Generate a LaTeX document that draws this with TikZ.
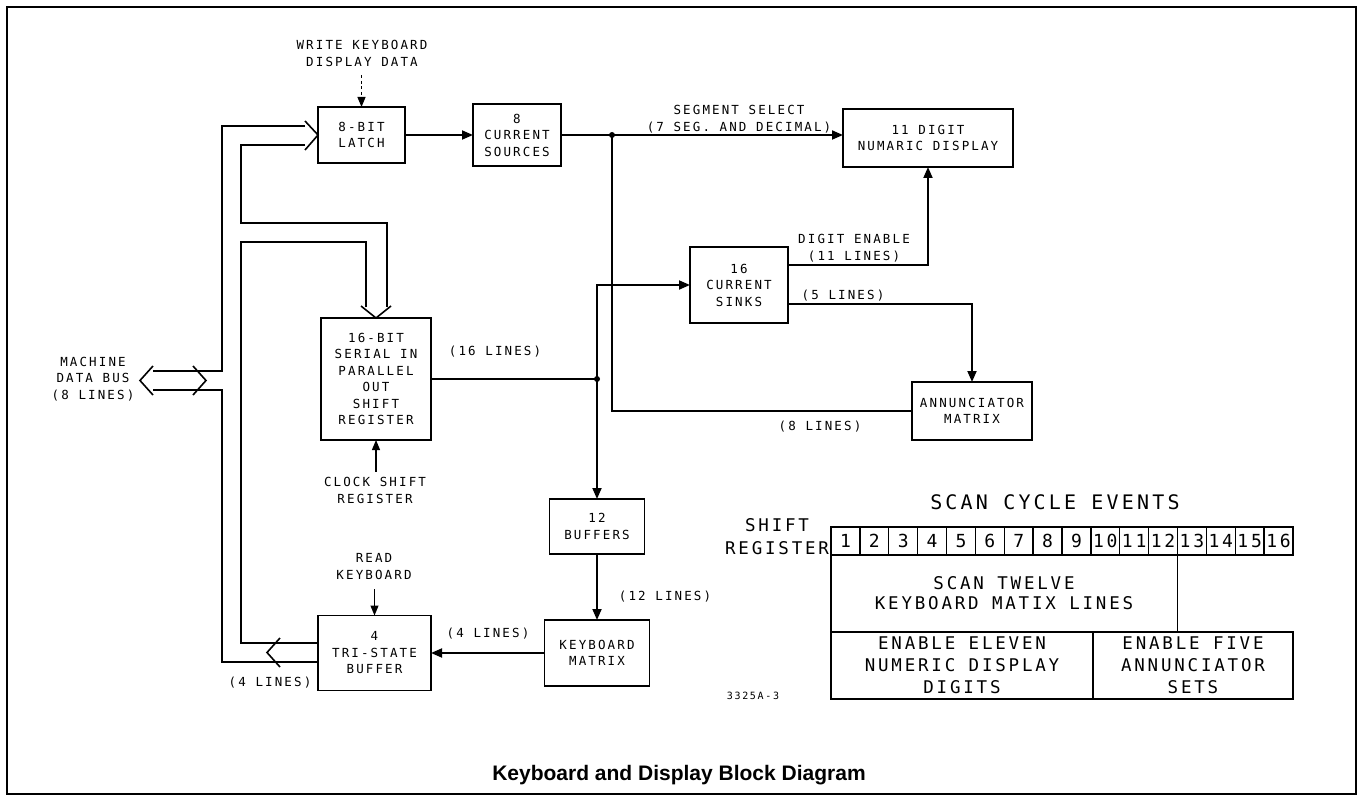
\documentclass[tikz,border=0pt]{standalone}
\usepackage{fontspec}
\usetikzlibrary{arrows.meta}
\newfontfamily\lblfont[LetterSpace=17]{DejaVu Sans Mono}
\newfontfamily\tblfont[LetterSpace=16]{DejaVu Sans Mono}
\newfontfamily\ttlfont{Liberation Sans}
\begin{document}
\begin{tikzpicture}[x=1pt,y=-1pt,
  ln/.style={line width=1.8pt},
  arr/.style={line width=1.8pt,-{Triangle[length=11pt,width=9pt]}},
  tarr/.style={line width=1.1pt,-{Triangle[length=10pt,width=8pt]}},
  bus/.style={line width=1.6pt,line join=miter},
  blk/.style={draw,line width=1.8pt,inner sep=0pt,outer sep=0pt,align=center,font=\lblfont\fontsize{12.5}{16.5}\selectfont},
  lbl/.style={inner sep=0pt,outer sep=0pt,align=center,font=\lblfont\fontsize{12.5}{16.5}\selectfont},
  tbl/.style={inner sep=0pt,outer sep=0pt,align=center,font=\tblfont\fontsize{17.5}{20}\selectfont},
  cell/.style={draw,line width=1.4pt,inner sep=0pt,outer sep=0pt,minimum width=28.875pt,minimum height=28pt,font=\tblfont\fontsize{18}{20}\selectfont},
  tbox/.style={draw,line width=1.4pt,inner sep=0pt,outer sep=0pt,align=center,font=\tblfont\fontsize{17.5}{22}\selectfont},
  tline/.style={line width=1.4pt}
]
\useasboundingbox (0,0) rectangle (1361,797);
\fill[white] (0,0) rectangle (1361,797);
\draw[line width=2.2pt] (7,7) rectangle (1356,794);

% blocks
\node[blk,minimum width=87pt,minimum height=56pt] (latch) at (361.5,135) {8-BIT\\LATCH};
\node[blk,minimum width=88pt,minimum height=62pt] (src) at (517,135) {8\\CURRENT\\SOURCES};
\node[blk,minimum width=170pt,minimum height=58pt] (disp) at (928,138) {11 DIGIT\\NUMARIC DISPLAY};
\node[blk,minimum width=98pt,minimum height=76pt] (sinks) at (739,285) {16\\CURRENT\\SINKS};
\node[blk,minimum width=120pt,minimum height=58pt] (ann) at (972,411) {ANNUNCIATOR\\MATRIX};
\node[blk,minimum width=110pt,minimum height=122pt] (sreg) at (376,379) {16-BIT\\SERIAL IN\\PARALLEL\\OUT\\SHIFT\\REGISTER};
\node[blk,minimum width=95pt,minimum height=55pt] (buf) at (597,526.5) {12\\BUFFERS};
\node[blk,minimum width=105pt,minimum height=66pt] (kbm) at (597,653) {KEYBOARD\\MATRIX};
\node[blk,minimum width=113pt,minimum height=75pt] (tri) at (374.5,653) {4\\TRI-STATE\\BUFFER};

% labels
\node[lbl] (wk) at (362,53.5) {WRITE KEYBOARD\\DISPLAY DATA};
\node[lbl] (seg) at (739,119) {SEGMENT SELECT\\(7 SEG. AND DECIMAL)};
\node[lbl] (den) at (854,248) {DIGIT ENABLE\\(11 LINES)};
\node[lbl] (l5) at (843,296) {(5 LINES)};
\node[lbl] (l8) at (820,427) {(8 LINES)};
\node[lbl] (l16) at (495,352) {(16 LINES)};
\node[lbl] (l12) at (665,597) {(12 LINES)};
\node[lbl] (l4a) at (488,634) {(4 LINES)};
\node[lbl] (l4b) at (270,683) {(4 LINES)};
\node[lbl] (mdb) at (93,379) {MACHINE\\DATA BUS\\(8 LINES)};
\node[lbl] (clk) at (375,490.5) {CLOCK SHIFT\\REGISTER};
\node[lbl] (rd) at (374,566.5) {READ\\KEYBOARD};
\node[lbl,font=\lblfont\fontsize{10}{12}\selectfont] (code) at (753,696) {3325A-3};

% connectors
\coordinate (segdot) at (612,135);
\coordinate (srdot) at (597,379);
\draw[tarr,dash pattern=on 3pt off 2.5pt,shorten <=9pt] (latch.north |- wk.south) -- (latch.north);
\draw[arr] (latch.east) -- (latch.east -| src.west);
\draw[ln] (src.east) -- (segdot);
\draw[arr] (segdot) -- (segdot -| disp.west);
\draw[ln] (segdot) |- (ann.west);
\fill (segdot) circle (3pt);
\draw[ln] (sreg.east) -- (srdot);
\draw[arr] (srdot) |- (sinks.west);
\draw[arr] (srdot) -- (buf.north);
\fill (srdot) circle (3pt);
\draw[arr] (buf.south) -- (kbm.north);
\draw[arr] (kbm.west) -- (kbm.west -| tri.east);
\draw[arr] ([yshift=20pt]sinks.east) -| (disp.south);
\draw[arr] ([yshift=-19pt]sinks.east) -| (ann.north);
\draw[tarr,shorten <=6pt] (sreg.south |- clk.north) -- (sreg.south);
\draw[tarr,shorten <=10pt] (tri.north |- rd.south) -- (tri.north);

% buses
\draw[bus] (305,126) -- (222,126) -- (222,371) -- (153,371);
\draw[bus] (153,390) -- (222,390) -- (222,662) -- (318,662);
\draw[bus] (305,145) -- (241,145) -- (241,223) -- (387,223) -- (387,307);
\draw[bus] (366,307) -- (366,242) -- (241,242) -- (241,643) -- (318,643);
\draw[bus] (305,121) -- (latch.west) -- (305,150);
\draw[bus] (361,306) -- (sreg.north) -- (391,306);
\draw[bus] (153,366) -- (140,380.5) -- (153,395);
\draw[bus] (193,366) -- (206,380.5) -- (193,395);
\draw[bus] (280,638) -- (267,652.5) -- (280,667);

% scan cycle table
\node[tbl,font=\tblfont\fontsize{20}{24}\selectfont] (sce) at (1055,502) {SCAN CYCLE EVENTS};
\node[tbl,anchor=east,font=\tblfont\fontsize{17.5}{23}\selectfont] (srl) at (829,537) {SHIFT\\REGISTER};
\foreach \i in {1,...,16} \node[cell] (c\i) at ({831+28.875*(\i-0.5)},541) {\i};
\node[tbox,minimum width=262pt,minimum height=67pt] (en11) at (962,665.5) {ENABLE ELEVEN\\NUMERIC DISPLAY\\DIGITS};
\node[tbox,minimum width=200pt,minimum height=67pt] (en5) at (1193,665.5) {ENABLE FIVE\\ANNUNCIATOR\\SETS};
\draw[tline] (c1.south west) -- (en11.north west);
\draw[tline] (c12.south east) -- (c12.south east |- en11.north);
\node[tbl] (scan) at (1004,593) {SCAN TWELVE\\KEYBOARD MATIX LINES};

% title
\node[font=\ttlfont\bfseries\fontsize{21}{25}\selectfont,anchor=base,inner sep=0pt] (title) at (679,780.5) {Keyboard and Display Block Diagram};
\end{tikzpicture}
\end{document}
